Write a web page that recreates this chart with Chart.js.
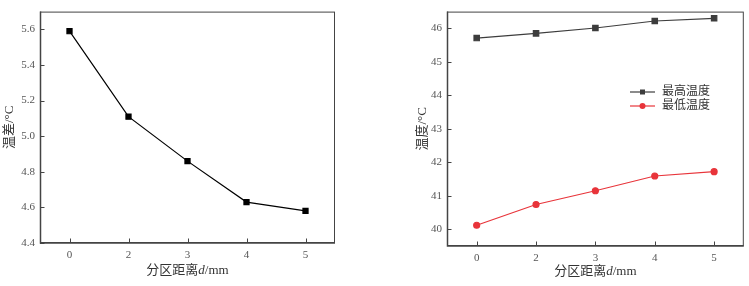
<!DOCTYPE html>
<html>
<head>
<meta charset="utf-8">
<script src="https://cdn.jsdelivr.net/npm/chart.js@4.4.0/dist/chart.umd.min.js"></script>
<style>
  body { margin: 0; background: #fff; }
  #wrap { position: relative; width: 749px; height: 286px; }
  #c1 { position: absolute; left: 0; top: 0; }
  #c2 { position: absolute; left: 380px; top: 0; }
</style>
</head>
<body>
<div id="wrap">
  <canvas id="c1" width="370" height="286"></canvas>
  <canvas id="c2" width="369" height="286"></canvas>
</div>
<script>
// data
var distances = ['0', '2', '3', '4', '5'];
var tempDiff = [5.59, 5.11, 4.86, 4.63, 4.58];
var tempMax = [45.71, 45.85, 46.01, 46.22, 46.30];
var tempMin = [40.12, 40.74, 41.15, 41.59, 41.72];
var diffTicks = [4.4, 4.6, 4.8, 5.0, 5.2, 5.4, 5.6];
var tempTicks = [40, 41, 42, 43, 44, 45, 46];

var latin = '"Liberation Serif", "Noto Sans CJK SC", serif';
var tickColor = '#555';

// frame, inward ticks and axis titles
function framePlugin(yTitle, xTitleY, yTitleX) {
    return {
        id: 'frame',
        afterDraw: function(chart) {
            var ctx = chart.ctx, a = chart.chartArea;
            var xs = chart.scales.x, ys = chart.scales.y;
            ctx.save();
            ctx.strokeStyle = '#444';
            ctx.lineWidth = 1;
            ctx.strokeRect(a.left + 0.5, a.top + 0.5, a.right - a.left - 1, a.bottom - a.top - 1);
            ctx.lineWidth = 1.5;
            ctx.beginPath();
            ctx.moveTo(a.left + 0.5, a.top);
            ctx.lineTo(a.left + 0.5, a.bottom);
            ctx.lineTo(a.right, a.bottom);
            ctx.stroke();
            ctx.lineWidth = 1;
            ctx.beginPath();
            ys.ticks.forEach(function(t, i) {
                var y = Math.round(ys.getPixelForTick(i)) + 0.5;
                ctx.moveTo(a.left, y);
                ctx.lineTo(a.left + 4.5, y);
            });
            xs.ticks.forEach(function(t, i) {
                var x = Math.round(xs.getPixelForTick(i)) + 0.5;
                ctx.moveTo(x, a.bottom);
                ctx.lineTo(x, a.bottom - 4.5);
            });
            ctx.stroke();

            // x title with italic d
            ctx.fillStyle = '#333';
            ctx.textBaseline = 'middle';
            var parts = [['分区距离', ''], ['d', 'italic '], ['/mm', '']];
            var total = 0;
            parts.forEach(function(p) {
                ctx.font = p[1] + '13px ' + latin;
                p.push(ctx.measureText(p[0]).width);
                total += p[2];
            });
            var x = (a.left + a.right) / 2 - total / 2;
            parts.forEach(function(p) {
                ctx.font = p[1] + '13px ' + latin;
                ctx.textAlign = 'left';
                ctx.fillText(p[0], x, xTitleY);
                x += p[2];
            });

            // y title
            ctx.translate(yTitleX, (a.top + a.bottom) / 2);
            ctx.rotate(-Math.PI / 2);
            ctx.font = '13px ' + latin;
            ctx.textAlign = 'center';
            ctx.fillText(yTitle, 0, 0);
            ctx.restore();
        }
    };
}

var legendPlugin = {
    id: 'innerLegend',
    afterDraw: function(chart) {
        var ctx = chart.ctx;
        ctx.save();
        chart.data.datasets.forEach(function(ds, i) {
            var y = 92 + i * 14;
            ctx.strokeStyle = ds.borderColor;
            ctx.fillStyle = ds.borderColor;
            ctx.lineWidth = 1.2;
            ctx.beginPath();
            ctx.moveTo(250, y);
            ctx.lineTo(275, y);
            ctx.stroke();
            ctx.beginPath();
            if (ds.pointStyle === 'rect') {
                ctx.rect(260, y - 2.5, 5, 5);
            } else {
                ctx.arc(262.5, y, 3, 0, Math.PI * 2);
            }
            ctx.fill();
            ctx.fillStyle = '#333';
            ctx.font = '12px ' + latin;
            ctx.textAlign = 'left';
            ctx.textBaseline = 'middle';
            ctx.fillText(ds.label, 282, y);
        });
        ctx.restore();
    }
};

function axes(yMin, yMax, yTicks, yWidth, xHeight, fmt) {
    return {
        x: {
            type: 'category',
            offset: true,
            grid: { display: false, drawTicks: false },
            border: { display: false },
            ticks: { color: tickColor, font: { family: latin, size: 11 }, padding: 6 },
            afterFit: function(s) { s.height = xHeight; }
        },
        y: {
            min: yMin,
            max: yMax,
            grid: { display: false, drawTicks: false },
            border: { display: false },
            afterBuildTicks: function(s) { s.ticks = yTicks.map(function(v) { return { value: v }; }); },
            ticks: { color: tickColor, font: { family: latin, size: 11 }, padding: 5, callback: fmt },
            afterFit: function(s) { s.width = yWidth; }
        }
    };
}

new Chart(document.getElementById('c1'), {
    type: 'line',
    data: {
        labels: distances,
        datasets: [{
            label: '温差',
            data: tempDiff,
            borderColor: '#000',
            backgroundColor: '#000',
            borderWidth: 1.2,
            pointStyle: 'rect',
            pointRadius: 3.6,
            tension: 0
        }]
    },
    options: {
        responsive: false,
        animation: false,
        layout: { padding: { left: 0, right: 35, top: 5, bottom: 0 } },
        plugins: { legend: { display: false }, tooltip: { enabled: false } },
        scales: axes(4.4, 5.7, diffTicks, 40, 43, function(v) { return v.toFixed(1); })
    },
    plugins: [framePlugin('温差/°C', 271, 10)]
});

new Chart(document.getElementById('c2'), {
    type: 'line',
    data: {
        labels: distances,
        datasets: [{
            label: '最高温度',
            data: tempMax,
            borderColor: '#3d3d3d',
            backgroundColor: '#3d3d3d',
            borderWidth: 1.2,
            pointStyle: 'rect',
            pointRadius: 3.8,
            tension: 0
        }, {
            label: '最低温度',
            data: tempMin,
            borderColor: '#e8343a',
            backgroundColor: '#e8343a',
            borderWidth: 1.2,
            pointStyle: 'circle',
            pointRadius: 3,
            tension: 0
        }]
    },
    options: {
        responsive: false,
        animation: false,
        layout: { padding: { left: 0, right: 2, top: 5, bottom: 0 } },
        plugins: { legend: { display: false }, tooltip: { enabled: false } },
        scales: axes(39.5, 46.5, tempTicks, 67, 40, function(v) { return v; })
    },
    plugins: [framePlugin('温度/°C', 272, 43), legendPlugin]
});
</script>
</body>
</html>
